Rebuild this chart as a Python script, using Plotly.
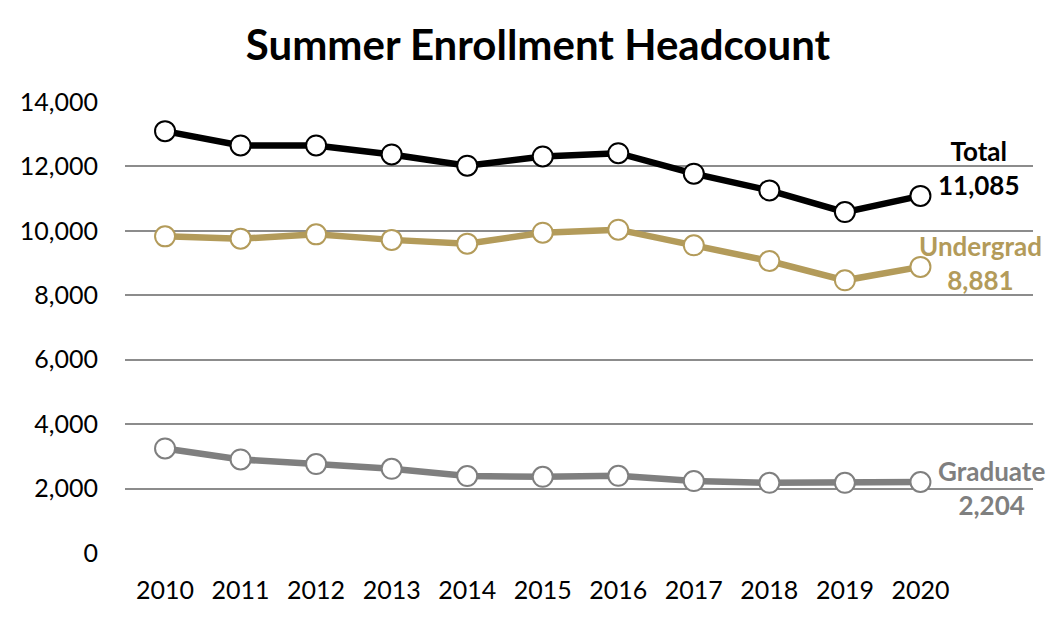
import plotly.graph_objects as go

# Data
years = [2010, 2011, 2012, 2013, 2014, 2015, 2016, 2017, 2018, 2019, 2020]
total = [13095, 12651, 12651, 12372, 12022, 12310, 12412, 11774, 11256, 10583, 11085]
undergrad = [9829, 9758, 9891, 9720, 9603, 9944, 10037, 9550, 9064, 8465, 8881]
graduate = [3246, 2905, 2760, 2614, 2388, 2366, 2397, 2233, 2180, 2180, 2204]
y_ticks = [0, 2000, 4000, 6000, 8000, 10000, 12000, 14000]

FONT = "Lato"
series = [
    ("Total", total, "#000000", 58, 28),
    ("Undergrad", undergrad, "#B39B5A", 60, 4),
    ("Graduate", graduate, "#7F7F7F", 71, -6),
]

fig = go.Figure()
for name, vals, color, dx, dy in series:
    fig.add_trace(go.Scatter(
        x=years, y=vals, name=name, mode="lines+markers",
        line=dict(color=color, width=6.5),
        marker=dict(size=20, color="white", line=dict(color=color, width=2)),
        hoverinfo="x+y",
    ))
    # end label
    fig.add_annotation(
        x=years[-1], y=vals[-1], xref="x", yref="y",
        text=f"<b>{name}</b><br><b>{vals[-1]:,}</b>",
        showarrow=False, xshift=dx, yshift=dy, align="center",
        font=dict(family=FONT, size=26, color=color),
    )

fig.update_layout(
    width=1060, height=620,
    paper_bgcolor="white", plot_bgcolor="white",
    margin=dict(l=114, r=35, t=94, b=75),
    showlegend=False,
    title=dict(text="<b>Summer Enrollment Headcount</b>", x=0.5, xanchor="center",
               y=0.94, yanchor="middle",
               font=dict(family=FONT, size=42, color="black")),
    font=dict(family=FONT, size=25, color="black"),
)
fig.update_xaxes(
    range=[2009.47, 2021.49], tickmode="array", tickvals=years,
    ticktext=[str(y) for y in years], showgrid=False, zeroline=False,
    showline=False, ticks="", ticklabelstandoff=20,
)
fig.update_yaxes(
    range=[0, 14000], tickmode="array", tickvals=y_ticks,
    ticktext=[f"{v:,}" for v in y_ticks], showgrid=True, gridcolor="#8C8C8C",
    gridwidth=2, zeroline=False, showline=False, ticks="", ticklabelstandoff=26,
)

fig.write_html("out.html")
